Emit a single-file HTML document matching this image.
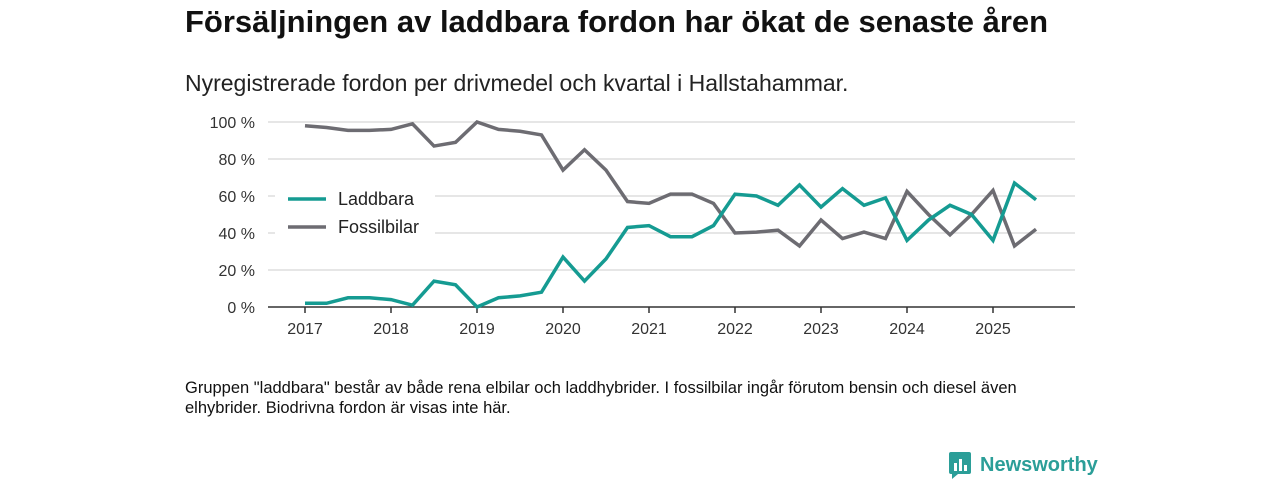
<!DOCTYPE html>
<html><head><meta charset="utf-8"><style>
body{margin:0;width:1280px;height:480px;background:#fff;font-family:"Liberation Sans",sans-serif;overflow:hidden;position:relative}
.t{position:absolute;left:185px;top:4px;font-size:31px;font-weight:bold;color:#111}
.s{position:absolute;left:185px;top:70px;font-size:23px;color:#222}
.n{position:absolute;left:185px;top:378px;font-size:16.5px;color:#111;line-height:20px;width:845px}
.logo{position:absolute;left:948px;top:451px;font-size:20px;font-weight:bold;color:#2b9e98;display:flex;align-items:center}
</style></head><body>
<div class="t">Försäljningen av laddbara fordon har ökat de senaste åren</div>
<div class="s">Nyregistrerade fordon per drivmedel och kvartal i Hallstahammar.</div>
<svg id="c" width="1280" height="480" style="position:absolute;left:0;top:0"></svg>
<div class="n">Gruppen "laddbara" består av både rena elbilar och laddhybrider. I fossilbilar ingår förutom bensin och diesel även elhybrider. Biodrivna fordon är visas inte här.</div>
<div class="logo"><svg width="24" height="28" style="margin-right:8px"><rect x="1" y="1" width="22" height="22" rx="2" fill="#2b9e98"/><polygon points="4,23 10,23 4,28" fill="#2b9e98"/><rect x="6" y="12" width="3" height="8" fill="#fff"/><rect x="11" y="8" width="3" height="12" fill="#fff"/><rect x="16" y="14" width="3" height="6" fill="#fff"/></svg>Newsworthy</div>
<script>
const years=["2017","2018","2019","2020","2021","2022","2023","2024","2025"];
const yTicks=[0,20,40,60,80,100];
const laddbara=[2,2,5,5,4,1,14,12,0,5,6,8,27,14,26,43,44,38,38,44,61,60,55,66,54,64,55,59,36,47,55,50,36,67,58];
const fossil=[98,97,95.5,95.5,96,99,87,89,100,96,95,93,74,85,74,57,56,61,61,56,40,40.5,41.5,33,47,37,40.5,37,62.5,50,39,50,63,33,42];
const NS="http://www.w3.org/2000/svg",svg=document.getElementById('c');
const x=i=>305+i*21.5, y=v=>307-v*1.85;
function mk(t,a){const e=document.createElementNS(NS,t);for(const k in a)e.setAttribute(k,a[k]);svg.appendChild(e);return e;}
yTicks.forEach(v=>{
 if(v>0){const g=mk('line',{x1:268,x2:1075,y1:y(v),y2:y(v),stroke:'#ddd','stroke-width':1.5});
 
 }
 const t=mk('text',{x:255,y:y(v)+6,'text-anchor':'end','font-size':16,fill:'#333','font-family':'Liberation Sans'});t.textContent=v+' %';
 
 
});
const ax=mk('line',{x1:268,x2:1075,y1:307,y2:307,stroke:'#333','stroke-width':1.5});


years.forEach((yr,i)=>{
 mk('line',{x1:x(i*4),x2:x(i*4),y1:307,y2:313,stroke:'#333','stroke-width':1.5});
 const t=mk('text',{x:x(i*4),y:334,'text-anchor':'middle','font-size':16,fill:'#333','font-family':'Liberation Sans'});t.textContent=yr;
 
 
});
function line(d,c,n){const p=mk('polyline',{points:d.map((v,i)=>x(i)+','+y(v)).join(' '),fill:'none',stroke:c,'stroke-width':3.5,'stroke-linejoin':'miter'});
 
 }
line(fossil,'#6d6c72','fossilbilar-line');
line(laddbara,'#159b92','laddbara-line');
[['Laddbara','#159b92',199],['Fossilbilar','#6d6c72',227]].forEach(([l,c,yy])=>{
 mk('rect',{x:275,y:yy-12,width:160,height:24,fill:'#fff'});
 mk('line',{x1:288,x2:326,y1:yy,y2:yy,stroke:c,'stroke-width':3.5});
 const t=mk('text',{x:338,y:yy+6,'font-size':18,fill:'#222','font-family':'Liberation Sans'});t.textContent=l;
 
 
});
</script>
</body></html>
